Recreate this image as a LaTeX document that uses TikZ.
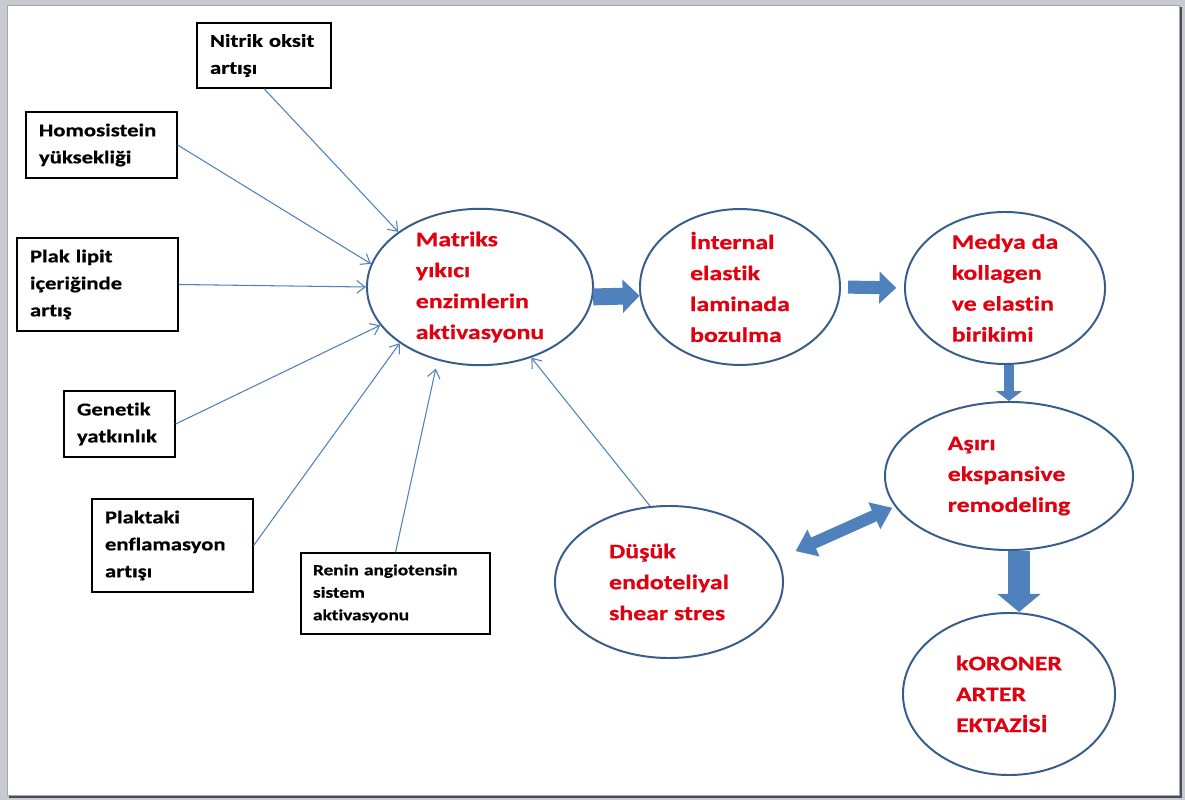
\documentclass[tikz,border=0pt]{standalone}
\usepackage{fontspec}
\setmainfont{Carlito}[FakeStretch=1.25, Ligatures=NoCommon, BoldFeatures={FakeBold=0.6}]
\usetikzlibrary{shapes.geometric,arrows.meta}
\definecolor{textred}{RGB}{225,0,15}
\definecolor{ovalblue}{RGB}{56,93,138}
\definecolor{linkblue}{RGB}{79,129,189}
\definecolor{rimgray}{RGB}{200,204,210}
\definecolor{shadowgray}{RGB}{70,78,88}

\begin{document}
\begin{tikzpicture}[x=0.025cm, y=-0.025cm,
  factor/.style={draw, line width=0.9pt, align=left, inner xsep=0.325cm, font=\fontsize{12.9}{19.2}\selectfont\bfseries},
  oval/.style={draw=ovalblue, line width=1.4pt, ellipse, inner sep=0pt, align=left, text=textred, font=\fontsize{14.7}{22}\selectfont\bfseries},
  thinarrow/.style={draw=linkblue, line width=0.75pt, -{Straight Barb[length=6pt,width=9pt]}},
  fatarrow/.style={draw=linkblue}]
\useasboundingbox (0,0) rectangle (1185,800);
\fill[rimgray] (0,0) rectangle (1185,800);
\fill[shadowgray] (9,7) rectangle (1182,798);
\filldraw[fill=white, draw=gray!70] (7,5) rectangle (1179,795);

\node[factor, text width=2.7cm, minimum height=1.625cm] (nitrik) at (264,55.5) {Nitrik oksit\\artışı};
\node[factor, text width=3.125cm, minimum height=1.65cm] (homo) at (101.5,145) {Homosistein\\yüksekliği};
\node[factor, text width=3.375cm, minimum height=2.325cm] (plak) at (97.5,284.5) {Plak lipit\\içeriğinde\\artış};
\node[factor, text width=2.125cm, minimum height=1.65cm] (genetik) at (119.5,424) {Genetik\\yatkınlık};
\node[factor, text width=3.375cm, minimum height=2.325cm] (plaktaki) at (172.5,545.5) {Plaktaki\\enflamasyon\\artışı};
\node[factor, text width=4.125cm, minimum height=2.025cm, inner xsep=0.3cm, font=\fontsize{11}{16}\selectfont\bfseries] (renin) at (395.5,593.5) {Renin angiotensin\\sistem\\aktivasyonu};

\node[oval, minimum width=5.65cm, minimum height=3.85cm] (matriks) at (480,287) {Matriks\\yıkıcı\\enzimlerin\\aktivasyonu};
\node[oval, minimum width=5.0cm, minimum height=3.85cm] (internal) at (740,287) {İnternal\\elastik\\laminada\\bozulma};
\node[oval, minimum width=5.0cm, minimum height=3.8cm] (medya) at (1005,288) {Medya da\\kollagen\\ve elastin\\birikimi};
\node[oval, minimum width=6.2cm, minimum height=3.7cm] (asiri) at (1009,476) {Aşırı\\ekspansive\\remodeling};
\node[oval, minimum width=5.7cm, minimum height=3.8cm] (dusuk) at (669,582) {Düşük\\endoteliyal\\shear stres};
\node[oval, minimum width=5.3cm, minimum height=4.05cm] (koroner) at (1009,694) {kORONER\\ARTER\\EKTAZİSİ};

\draw[thinarrow] (nitrik.south) -- (matriks.146);
\draw[thinarrow] (homo.east) -- (matriks.168);
\draw[thinarrow] (plak.east) -- (matriks.west);
\draw[thinarrow] (genetik.east) -- (matriks.201);
\draw[thinarrow] (plaktaki.east) -- (matriks.215);
\draw[thinarrow, shorten >=6pt] (renin.north) -- (matriks.240);
\draw[thinarrow] (dusuk.104) -- (matriks.306);

\draw[fatarrow, line width=12pt, -{Triangle[length=12pt,width=23pt]}] (matriks.-5) -- (internal.185);
\draw[fatarrow, line width=9.3pt, -{Triangle[length=12pt,width=22pt]}, shorten <=5pt, shorten >=5.5pt] (internal.east) -- (medya.west);
\draw[fatarrow, line width=7.8pt, -{Triangle[length=7pt,width=18pt]}] (medya.south -| asiri.north) -- (asiri.north);
\draw[fatarrow, line width=15.6pt, -{Triangle[length=12.8pt,width=30pt]}] ([xshift=0.25cm]asiri.south) -- ([xshift=0.25cm]asiri.south |- koroner.north);
\draw[fatarrow, line width=8.5pt, {Triangle[length=14pt,width=20pt]}-{Triangle[length=14pt,width=20pt]}, shorten <=13.2pt, shorten >=2pt] (dusuk.12) -- (asiri.195);
\end{tikzpicture}
\end{document}
